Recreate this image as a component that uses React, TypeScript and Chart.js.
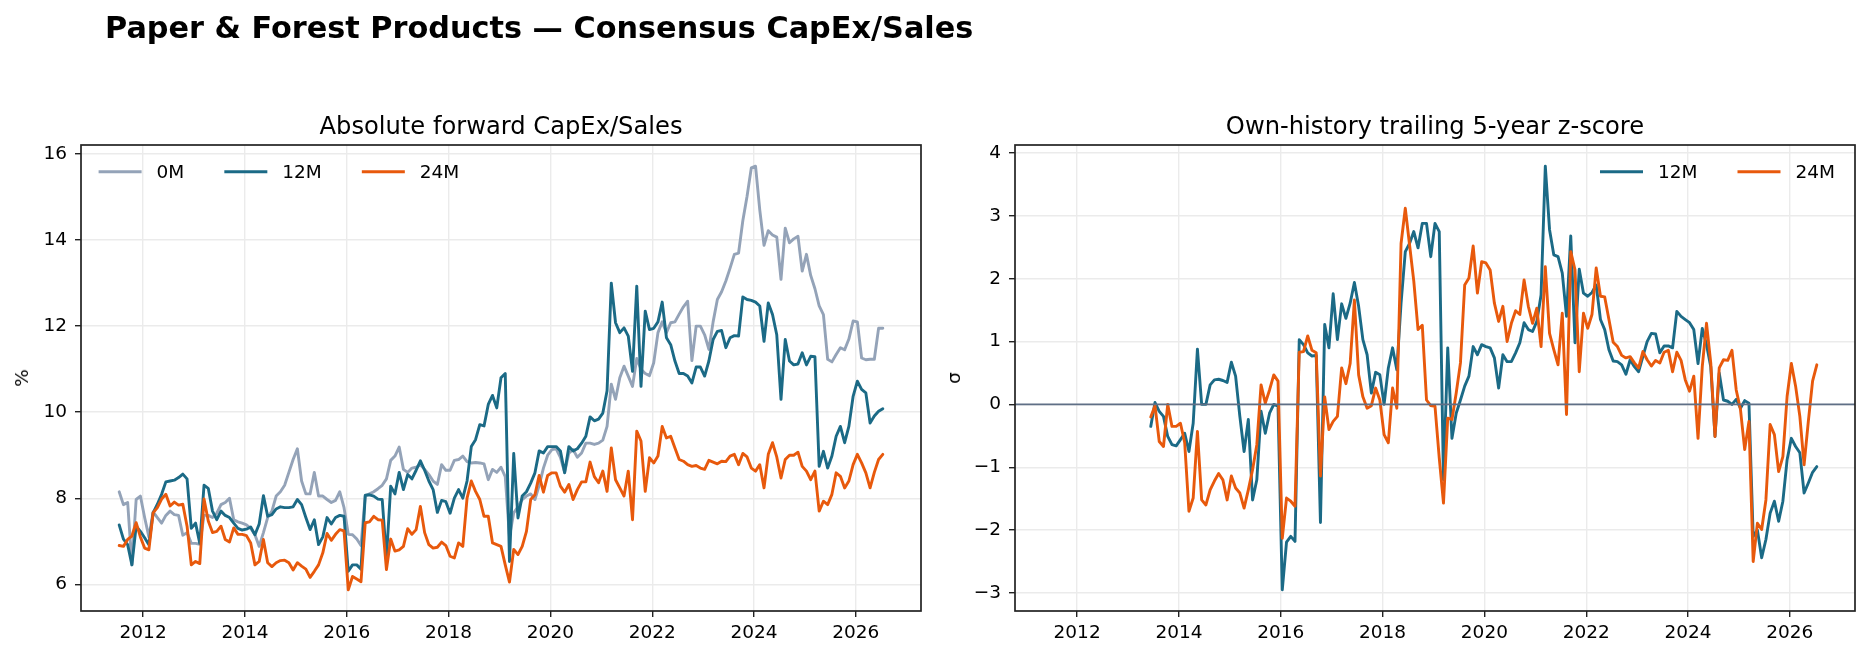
import React, { useEffect, useRef } from 'react';
import { Chart, registerables } from 'chart.js';

Chart.register(...registerables);

const FONT = "'DejaVu Sans', 'Liberation Sans', sans-serif";
Chart.defaults.font.family = FONT;

// ---- time axis: monthly observations, first month as decimal year ----
const START_YEAR = 2011.53;
const MONTHS_PER_YEAR = 12;
const Z_START_INDEX = 23; // z-score series begins 23 months after the level series

// ---- Absolute forward CapEx/Sales (%), monthly ----
const capex0M = [
  8.15, 7.85, 7.9, 6.45, 7.97, 8.05,
  7.55, 7.1, 7.68, 7.55, 7.42, 7.6, 7.7, 7.62, 7.6, 7.14, 7.2, 6.95,
  6.95, 6.93, 7.6, 7.6, 7.55, 7.65, 7.85, 7.9, 8.0, 7.5, 7.45, 7.42,
  7.38, 7.3, 7.15, 6.88, 7.2, 7.55, 7.7, 8.05, 8.15, 8.3, 8.6, 8.9,
  9.15, 8.4, 8.1, 8.1, 8.6, 8.05, 8.05, 7.97, 7.9, 7.95, 8.15, 7.78,
  7.16, 7.15, 7.05, 6.9, 8.05, 8.1, 8.15, 8.22, 8.3, 8.45, 8.88, 8.98,
  9.19, 8.67, 8.6, 8.7, 8.72, 8.78, 8.67, 8.55, 8.4, 8.32, 8.78, 8.65,
  8.65, 8.88, 8.9, 8.98, 8.85, 8.82, 8.83, 8.82, 8.8, 8.43, 8.67, 8.6,
  8.72, 8.5, 7.1, 7.66, 7.8, 7.97, 8.05, 8.1, 7.97, 8.3, 8.7, 9.0,
  9.13, 9.15, 8.95, 8.6, 9.05, 9.13, 8.95, 9.05, 9.28, 9.28, 9.25, 9.28,
  9.35, 9.67, 10.65, 10.3, 10.8, 11.07, 10.84, 10.6, 11.25, 11.0, 10.9, 10.85,
  11.15, 11.85, 12.1, 11.85, 12.08, 12.1, 12.28, 12.45, 12.58, 11.2, 12.0, 12.0,
  11.8, 11.46, 12.1, 12.62, 12.8, 13.05, 13.35, 13.67, 13.7, 14.45, 15.02, 15.68,
  15.72, 14.7, 13.88, 14.22, 14.12, 14.07, 13.09, 14.28, 13.94, 14.03, 14.09, 13.28,
  13.67, 13.18, 12.87, 12.47, 12.27, 11.23, 11.17, 11.34, 11.5, 11.45, 11.7, 12.12,
  12.1, 11.26, 11.22, 11.23, 11.23, 11.95, 11.95,
];

const capex12M = [
  7.38, 7.05, 6.92, 6.45, 7.35, 7.23,
  7.08, 6.92, 7.66, 7.86, 8.09, 8.38, 8.4, 8.42, 8.48, 8.56, 8.45, 7.3,
  7.42, 6.95, 8.3, 8.23, 7.7, 7.5, 7.7, 7.6, 7.55, 7.42, 7.3, 7.26,
  7.28, 7.33, 7.15, 7.4, 8.06, 7.58, 7.62, 7.75, 7.8, 7.78, 7.78, 7.8,
  7.97, 7.85, 7.55, 7.27, 7.5, 6.92, 7.1, 7.55, 7.4, 7.55, 7.6, 7.58,
  6.3, 6.45, 6.45, 6.35, 8.07, 8.08, 8.05, 7.98, 7.97, 6.6, 8.28, 8.1,
  8.6, 8.2, 8.55, 8.45, 8.65, 8.87, 8.65, 8.4, 8.2, 7.67, 7.95, 7.92,
  7.65, 8.0, 8.2, 8.0, 8.4, 9.2, 9.36, 9.71, 9.68, 10.18, 10.39, 10.1,
  10.8, 10.9, 6.53, 9.04, 7.54, 8.05, 8.15, 8.35, 8.59, 9.1, 9.05, 9.2,
  9.2, 9.2, 9.1, 8.59, 9.2, 9.1, 9.15, 9.28, 9.44, 9.89, 9.8, 9.84,
  9.98, 10.5, 13.0, 12.08, 11.85, 11.96, 11.77, 10.95, 12.93, 10.6, 12.35, 11.92,
  11.95, 12.1, 12.56, 11.73, 11.57, 11.19, 10.9, 10.9, 10.84, 10.68, 11.05, 11.05,
  10.84, 11.19, 11.69, 11.88, 11.9, 11.5, 11.73, 11.78, 11.77, 12.68, 12.62, 12.6,
  12.56, 12.47, 11.65, 12.54, 12.27, 11.8, 10.3, 11.69, 11.19, 11.1, 11.12, 11.38,
  11.1, 11.3, 11.29, 8.74, 9.09, 8.7, 8.98, 9.44, 9.67, 9.29, 9.67, 10.37,
  10.72, 10.53, 10.45, 9.75, 9.91, 10.02, 10.08,
];

const capex24M = [
  6.9, 6.88, 7.04, 7.12, 7.43, 7.1,
  6.84, 6.8, 7.66, 7.78, 7.98, 8.09, 7.82, 7.91, 7.84, 7.86, 7.35, 6.45,
  6.53, 6.48, 7.98, 7.47, 7.2, 7.23, 7.35, 7.04, 6.98, 7.31, 7.16, 7.16,
  7.13, 6.96, 6.45, 6.53, 7.04, 6.5, 6.41, 6.5, 6.55, 6.56, 6.5, 6.33,
  6.5, 6.42, 6.35, 6.16, 6.3, 6.45, 6.73, 7.18, 7.02, 7.16, 7.27, 7.24,
  5.87, 6.18, 6.12, 6.06, 7.43, 7.45, 7.58, 7.5, 7.49, 6.34, 7.05, 6.77,
  6.8, 6.88, 7.29, 7.16, 7.27, 7.81, 7.2, 6.92, 6.84, 6.86, 6.98, 6.9,
  6.65, 6.61, 6.96, 6.88, 8.0, 8.4, 8.16, 7.97, 7.58, 7.58, 6.96, 6.92,
  6.88, 6.45, 6.05, 6.81, 6.69, 6.88, 7.23, 7.97, 8.08, 8.53, 8.14, 8.53,
  8.59, 8.59, 8.28, 8.14, 8.32, 7.97, 8.2, 8.38, 8.38, 8.84, 8.5, 8.36,
  8.63, 8.16, 9.17, 8.43, 8.24, 8.05, 8.63, 7.5, 9.56, 9.33, 8.16, 8.94,
  8.82, 8.98, 9.67, 9.4, 9.44, 9.17, 8.9, 8.86, 8.78, 8.74, 8.76, 8.7,
  8.67, 8.88, 8.84, 8.8, 8.86, 8.85, 8.98, 9.02, 8.78, 9.04, 8.96, 8.7,
  8.63, 8.78, 8.24, 9.02, 9.29, 8.96, 8.47, 8.9, 9.0, 9.0, 9.07, 8.74,
  8.63, 8.43, 8.63, 7.7, 7.93, 7.85, 8.09, 8.59, 8.51, 8.24, 8.4, 8.78,
  9.02, 8.82, 8.59, 8.24, 8.6, 8.9, 9.02,
];

// ---- Own-history trailing 5-year z-score (sigma), monthly ----
const z12M = [
  -0.35, 0.03, -0.11, -0.19, -0.51, -0.64, -0.66,
  -0.56, -0.46, -0.75, -0.3, 0.88, 0.0, 0.0, 0.31, 0.39, 0.4, 0.38, 0.35,
  0.67, 0.45, -0.19, -0.75, -0.24, -1.52, -1.2, -0.11, -0.46, -0.14, 0.0, -0.03,
  -2.95, -2.19, -2.1, -2.18, 1.03, 0.95, 0.82, 0.77, 0.78, -1.88, 1.27, 0.9,
  1.76, 1.03, 1.6, 1.37, 1.61, 1.94, 1.56, 1.03, 0.79, 0.18, 0.51, 0.47,
  0.0, 0.58, 0.9, 0.55, 1.61, 2.43, 2.56, 2.75, 2.49, 2.88, 2.88, 2.35,
  2.88, 2.75, -1.2, 0.9, -0.54, -0.14, 0.07, 0.29, 0.45, 0.92, 0.79, 0.95,
  0.92, 0.9, 0.74, 0.26, 0.79, 0.68, 0.68, 0.82, 0.98, 1.3, 1.19, 1.16,
  1.32, 1.74, 3.79, 2.78, 2.38, 2.35, 2.09, 1.4, 2.68, 0.98, 2.15, 1.77,
  1.72, 1.78, 1.9, 1.35, 1.19, 0.87, 0.69, 0.68, 0.63, 0.48, 0.71, 0.6,
  0.52, 0.76, 1.0, 1.13, 1.12, 0.82, 0.93, 0.93, 0.9, 1.48, 1.4, 1.35,
  1.3, 1.19, 0.65, 1.21, 0.95, 0.6, -0.51, 0.5, 0.07, 0.05, 0.0, 0.08,
  -0.06, 0.06, 0.02, -2.1, -2.0, -2.44, -2.15, -1.73, -1.54, -1.86, -1.54, -0.88,
  -0.54, -0.67, -0.77, -1.41, -1.25, -1.08, -0.99,
];

const z24M = [
  -0.2, -0.02, -0.59, -0.67, 0.0, -0.35, -0.35,
  -0.3, -0.61, -1.7, -1.49, -0.43, -1.52, -1.6, -1.36, -1.22, -1.1, -1.2, -1.52,
  -1.14, -1.33, -1.41, -1.65, -1.36, -1.04, -0.64, 0.31, 0.02, 0.23, 0.47, 0.37,
  -2.13, -1.49, -1.54, -1.62, 0.83, 0.84, 1.09, 0.86, 0.82, -1.14, 0.12, -0.4,
  -0.27, -0.19, 0.58, 0.33, 0.65, 1.66, 0.47, 0.12, -0.06, -0.02, 0.26, 0.07,
  -0.48, -0.61, 0.26, -0.06, 2.56, 3.12, 2.54, 1.96, 1.19, 1.26, 0.07, -0.02,
  -0.03, -0.85, -1.57, -0.22, -0.24, 0.18, 0.66, 1.9, 2.01, 2.52, 1.77, 2.27,
  2.25, 2.14, 1.61, 1.32, 1.56, 1.0, 1.29, 1.49, 1.43, 1.98, 1.56, 1.29,
  1.53, 0.92, 2.19, 1.13, 0.87, 0.63, 1.45, -0.16, 2.43, 2.14, 0.52, 1.45,
  1.21, 1.43, 2.17, 1.72, 1.71, 1.35, 0.99, 0.92, 0.78, 0.74, 0.76, 0.66,
  0.58, 0.84, 0.71, 0.61, 0.7, 0.66, 0.83, 0.86, 0.52, 0.83, 0.7, 0.39,
  0.21, 0.45, -0.54, 0.6, 1.29, 0.66, -0.51, 0.58, 0.71, 0.7, 0.86, 0.23,
  -0.08, -0.72, -0.27, -2.5, -1.89, -1.99, -1.52, -0.32, -0.48, -1.07, -0.83, 0.13,
  0.65, 0.29, -0.19, -0.96, -0.27, 0.37, 0.63,
];

// ---- tick labels / legend labels ----
const xTickYears = [2012, 2014, 2016, 2018, 2020, 2022, 2024, 2026];
const leftYTicks = [6, 8, 10, 12, 14, 16];
const rightYTicks = [-3, -2, -1, 0, 1, 2, 3, 4];
const leftLegendLabels = ['0M', '12M', '24M'];
const rightLegendLabels = ['12M', '24M'];

const COLOR_0M = '#94a3b8';
const COLOR_12M = '#1b6a86';
const COLOR_24M = '#e8590c';
const COLOR_ZERO = '#5f6f86';
const GRID = '#ebebeb';
const TEXT_PX = 18.5;
const LINE_W = 2.9;

const toPoints = (vals: number[], startIndex: number) =>
  vals.map((v, i) => ({ x: START_YEAR + (startIndex + i) / MONTHS_PER_YEAR, y: v }));

const withMargin = (lo: number, hi: number) => {
  const span = hi - lo;
  return [lo - 0.05 * span, hi + 0.05 * span];
};

const X_FIRST = START_YEAR;
const X_LAST = START_YEAR + (capex0M.length - 1) / MONTHS_PER_YEAR;
const [X_MIN, X_MAX] = withMargin(X_FIRST, X_LAST);

const leftAll = [...capex0M, ...capex12M, ...capex24M];
const [L_MIN, L_MAX] = withMargin(Math.min(...leftAll), Math.max(...leftAll));
const rightAll = [...z12M, ...z24M];
const [R_MIN, R_MAX] = withMargin(Math.min(...rightAll), Math.max(...rightAll));

const fmtMinus = (v: number) => (v < 0 ? '\u2212' + Math.abs(v) : String(v));

const insideLegend = {
  id: 'insideLegend',
  afterDatasetsDraw(chart: any, _args: any, opts: any) {
    if (!opts || !opts.items) return;
    const { ctx, chartArea } = chart;
    const handle = 43;
    const textPad = 15;
    ctx.save();
    ctx.font = `${TEXT_PX}px ${FONT}`;
    const widths = opts.items.map((it: any) => handle + textPad + ctx.measureText(it.label).width);
    const total = widths.reduce((a: number, b: number) => a + b, 0) + opts.colSpacing * (opts.items.length - 1);
    let x = opts.align === 'right' ? chartArea.right - opts.padX - total : chartArea.left + opts.padX;
    const y = chartArea.top + opts.padY;
    opts.items.forEach((it: any, k: number) => {
      ctx.strokeStyle = it.color;
      ctx.lineWidth = 3;
      ctx.lineCap = 'butt';
      ctx.beginPath();
      ctx.moveTo(x, y);
      ctx.lineTo(x + handle, y);
      ctx.stroke();
      ctx.fillStyle = '#000';
      ctx.textAlign = 'left';
      ctx.textBaseline = 'middle';
      ctx.fillText(it.label, x + handle + textPad, y + 1);
      x += widths[k] + opts.colSpacing;
    });
    ctx.restore();
  },
};

const zeroLine = {
  id: 'zeroLine',
  afterDatasetsDraw(chart: any, _args: any, opts: any) {
    if (!opts || !opts.show) return;
    const { ctx, chartArea, scales } = chart;
    const y = scales.y.getPixelForValue(0);
    ctx.save();
    ctx.strokeStyle = COLOR_ZERO;
    ctx.lineWidth = 1.8;
    ctx.beginPath();
    ctx.moveTo(chartArea.left, y);
    ctx.lineTo(chartArea.right, y);
    ctx.stroke();
    ctx.restore();
  },
};

const frame = {
  id: 'frame',
  afterDraw(chart: any) {
    const { ctx, chartArea } = chart;
    ctx.save();
    ctx.strokeStyle = '#222';
    ctx.lineWidth = 1.7;
    ctx.strokeRect(chartArea.left, chartArea.top, chartArea.right - chartArea.left, chartArea.bottom - chartArea.top);
    ctx.restore();
  },
};

function makeConfig(
  datasets: any[],
  yMin: number,
  yMax: number,
  yTicks: number[],
  yWidth: number,
  legendItems: any[],
  align: string,
  padX: number,
  showZero: boolean,
): any {
  return {
    type: 'line',
    data: { datasets },
    options: {
      animation: false,
      responsive: false,
      maintainAspectRatio: false,
      devicePixelRatio: 1,
      events: [],
      layout: { padding: { top: 145, right: 14, bottom: 0, left: 0 } },
      elements: {
        point: { radius: 0 },
        line: { tension: 0, borderWidth: LINE_W, borderJoinStyle: 'round', borderCapStyle: 'round' },
      },
      plugins: {
        legend: { display: false },
        tooltip: { enabled: false },
        title: { display: false },
        insideLegend: { items: legendItems, align, padX, padY: 26.7, colSpacing: 40 },
        zeroLine: { show: showZero },
      },
      scales: {
        x: {
          type: 'linear',
          min: X_MIN,
          max: X_MAX,
          afterBuildTicks: (s: any) => {
            s.ticks = xTickYears.map((v) => ({ value: v }));
          },
          afterFit: (s: any) => {
            s.height = 48;
          },
          ticks: {
            autoSkip: false,
            maxRotation: 0,
            minRotation: 0,
            padding: 5,
            color: '#000',
            font: { size: TEXT_PX },
            callback: (v: any) => String(v),
          },
          grid: { color: GRID, lineWidth: 1.4, tickLength: 6, tickColor: '#222', tickWidth: 1.4 },
          border: { display: false },
        },
        y: {
          type: 'linear',
          min: yMin,
          max: yMax,
          afterBuildTicks: (s: any) => {
            s.ticks = yTicks.map((v) => ({ value: v }));
          },
          afterFit: (s: any) => {
            s.width = yWidth;
          },
          ticks: {
            padding: 8,
            color: '#000',
            font: { size: TEXT_PX },
            callback: (v: any) => fmtMinus(v),
          },
          grid: { color: GRID, lineWidth: 1.4, tickLength: 6, tickColor: '#222', tickWidth: 1.4 },
          border: { display: false },
        },
      },
    },
    plugins: [zeroLine, insideLegend, frame],
  };
}

export default function App() {
  const leftRef = useRef<HTMLCanvasElement | null>(null);
  const rightRef = useRef<HTMLCanvasElement | null>(null);

  useEffect(() => {
    const leftDatasets = [
      { label: leftLegendLabels[0], data: toPoints(capex0M, 0), borderColor: COLOR_0M, order: 3 },
      { label: leftLegendLabels[1], data: toPoints(capex12M, 0), borderColor: COLOR_12M, order: 2 },
      { label: leftLegendLabels[2], data: toPoints(capex24M, 0), borderColor: COLOR_24M, order: 1 },
    ];
    const rightDatasets = [
      { label: rightLegendLabels[0], data: toPoints(z12M, Z_START_INDEX), borderColor: COLOR_12M, order: 2 },
      { label: rightLegendLabels[1], data: toPoints(z24M, Z_START_INDEX), borderColor: COLOR_24M, order: 1 },
    ];
    const left = new Chart(
      leftRef.current as HTMLCanvasElement,
      makeConfig(
        leftDatasets, L_MIN, L_MAX, leftYTicks, 81,
        [
          { label: leftLegendLabels[0], color: COLOR_0M },
          { label: leftLegendLabels[1], color: COLOR_12M },
          { label: leftLegendLabels[2], color: COLOR_24M },
        ],
        'left', 17.6, false,
      ),
    );
    const right = new Chart(
      rightRef.current as HTMLCanvasElement,
      makeConfig(
        rightDatasets, R_MIN, R_MAX, rightYTicks, 80,
        [
          { label: rightLegendLabels[0], color: COLOR_12M },
          { label: rightLegendLabels[1], color: COLOR_24M },
        ],
        'right', 20, true,
      ),
    );
    return () => {
      left.destroy();
      right.destroy();
    };
  }, []);

  return (
    <div
      style={{
        position: 'absolute',
        left: 0,
        top: 0,
        width: 1869,
        height: 659,
        background: '#fff',
        overflow: 'hidden',
        fontFamily: FONT,
        color: '#000',
      }}
    >
      <canvas ref={leftRef} width={935} height={659} style={{ position: 'absolute', left: 0, top: 0, width: 935, height: 659 }} />
      <canvas ref={rightRef} width={934} height={659} style={{ position: 'absolute', left: 935, top: 0, width: 934, height: 659 }} />
      <div style={{ position: 'absolute', left: 105, top: 10, fontSize: 30.3, fontWeight: 'bold', lineHeight: '36px', whiteSpace: 'nowrap' }}>
        Paper &amp; Forest Products — Consensus CapEx/Sales
      </div>
      <div style={{ position: 'absolute', left: 81, width: 840, top: 111, textAlign: 'center', fontSize: 24.2, lineHeight: '30px', whiteSpace: 'nowrap' }}>
        Absolute forward CapEx/Sales
      </div>
      <div style={{ position: 'absolute', left: 1015, width: 840, top: 111, textAlign: 'center', fontSize: 24.2, lineHeight: '30px', whiteSpace: 'nowrap' }}>
        Own-history trailing 5-year z-score
      </div>
      <div style={{ position: 'absolute', left: 22, top: 378, transform: 'translate(-50%, -50%) rotate(-90deg)', fontSize: TEXT_PX, lineHeight: '22px', whiteSpace: 'nowrap' }}>
        %
      </div>
      <div style={{ position: 'absolute', left: 954, top: 378, transform: 'translate(-50%, -50%) rotate(-90deg)', fontSize: TEXT_PX, lineHeight: '22px', whiteSpace: 'nowrap' }}>
        σ
      </div>
    </div>
  );
}
